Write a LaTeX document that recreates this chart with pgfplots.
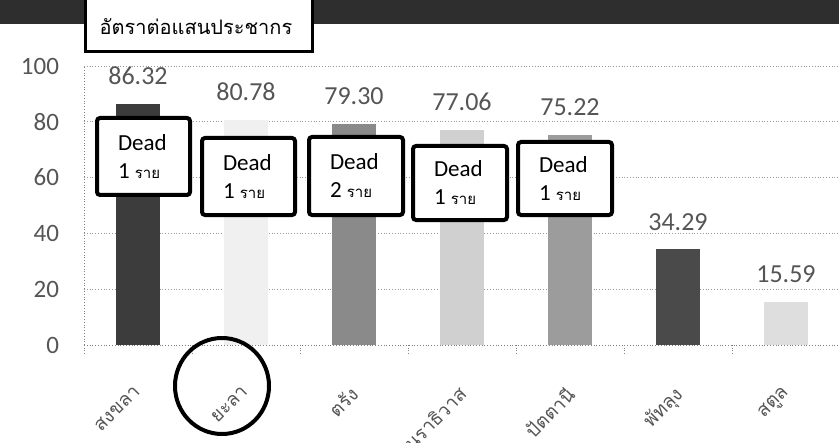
\documentclass[border=0pt]{standalone}
\usepackage{pgfplots}
\pgfplotsset{compat=1.18}
\usepackage{fontspec}
\setmainfont{Carlito}
\newfontfamily\thai[Script=Thai]{Loma}
\definecolor{banner}{HTML}{2E2E2E}
\definecolor{cA}{HTML}{3C3C3C}
\definecolor{cB}{HTML}{F0F0F0}
\definecolor{cC}{HTML}{8A8A8A}
\definecolor{cD}{HTML}{D0D0D0}
\definecolor{cE}{HTML}{9C9C9C}
\definecolor{cF}{HTML}{4A4A4A}
\definecolor{cG}{HTML}{DEDEDE}
\definecolor{txt}{HTML}{555555}
\begin{document}
\begin{tikzpicture}
\useasboundingbox (0,0) rectangle (419.5pt,-221.5pt);
\begin{axis}[
  at={(42pt,-172.5pt)}, anchor=south west,
  scale only axis, width=378pt, height=139.5pt,
  xmin=-0.5, xmax=6.5, ymin=0, ymax=100,
  ytick={0,20,...,100},
  xtick={0,...,6},
  xticklabels={สงขลา,ยะลา,ตรัง,นราธิวาส,ปัตตานี,พัทลุง,สตูล},
  minor xtick={-0.5,0.5,...,6.5},
  major tick length=0pt, minor tick length=4pt, tick align=outside,
  minor tick style={densely dotted, gray},
  ymajorgrids, grid style={densely dotted, gray!80},
  axis x line*=bottom, axis y line*=left,
  axis line style={densely dotted, gray, -},
  ybar, bar width=0.4, bar shift=0pt,
  clip=false,
  nodes near coords, point meta=explicit symbolic,
  every node near coord/.append style={font=\fontsize{13}{15}\selectfont, text=txt, yshift=6pt},
  xticklabel style={xshift=-2.5pt, yshift=-15pt, rotate=45, anchor=north east, font=\thai\fontsize{9.5}{11}\selectfont, text=txt},
  yticklabel style={font=\fontsize{12.5}{14}\selectfont, text=txt, xshift=-9pt},
  /pgf/number format/assume math mode=true,
]
\addplot[fill=cA, draw=none] coordinates {(0,86.32) [86.32]};
\addplot[fill=cB, draw=none] coordinates {(1,80.78) [80.78]};
\addplot[fill=cC, draw=none] coordinates {(2,79.30) [79.30]};
\addplot[fill=cD, draw=none] coordinates {(3,77.06) [77.06]};
\addplot[fill=cE, draw=none] coordinates {(4,75.22) [75.22]};
\addplot[fill=cF, draw=none] coordinates {(5,34.29) [34.29]};
\addplot[fill=cG, draw=none] coordinates {(6,15.59) [15.59]};
\end{axis}
\begin{scope}[x=0.5pt,y=-0.5pt]
\fill[banner] (0,0) rectangle (839,24);
\draw[line width=1.5pt, fill=white] (85,-5) rectangle (312,52);
\node[font=\thai\fontsize{10}{12}\selectfont] at (196,27) {อัตราต่อแสนประชากร};
\foreach \xa/\ya/\xb/\yb/\n in {97/118/190/195/1, 202/138/295/215/1, 309/137/403/215/2, 413/146/507/220/1, 518/142/612/215/1}{
  \draw[line width=2pt, rounded corners=1.5pt, fill=white] (\xa,\ya) rectangle (\xb,\yb);
  \node[align=left, anchor=west, font=\fontsize{11.5}{14}\selectfont] at ({\xa+14},{(\ya+\yb)/2}) {Dead\\\n\ {\thai\fontsize{7.5}{9}\selectfont ราย}};
}
\draw[line width=2pt] (222,386) ellipse (47 and 48);
\end{scope}
\end{tikzpicture}
\end{document}
